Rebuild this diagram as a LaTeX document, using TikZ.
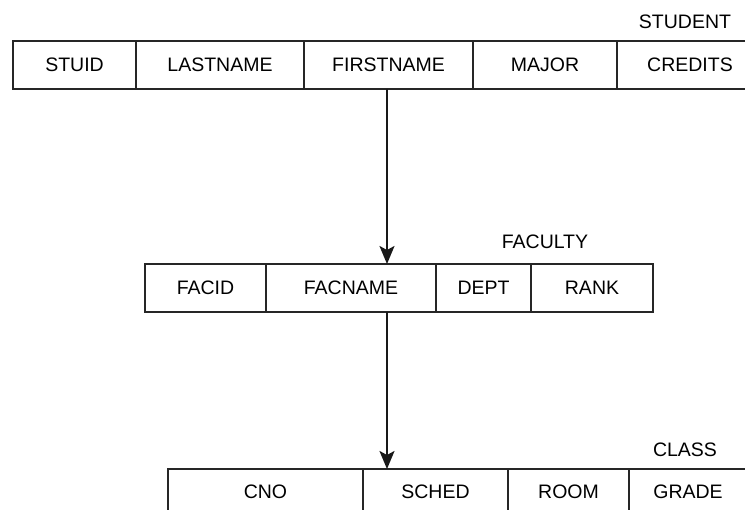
\documentclass[tikz,border=0pt]{standalone}
\usepackage{fontspec}
\setmainfont{Liberation Sans}
\usetikzlibrary{arrows.meta}
\begin{document}
\begin{tikzpicture}[x=1pt,y=-1pt,
  cell/.style={draw=black!85, line width=1.3pt, font=\fontsize{19.5}{22}\selectfont, inner sep=0pt, outer sep=0pt, anchor=north west},
  tname/.style={font=\fontsize{19.5}{22}\selectfont, inner sep=0pt},
  link/.style={line width=2pt, black!90, -{Stealth[length=18pt,width=15pt,inset=4pt]}}]
\useasboundingbox (0,0) rectangle (745,510);
\begin{scope}
\clip (0,0) rectangle (745,510);
% STUDENT
\node[tname] (student) at (685,22) {STUDENT};
\node[cell, minimum width=123pt, minimum height=48pt] (stuid) at (13,41) {STUID};
\node[cell, minimum width=168pt, minimum height=48pt] (lastname) at (136,41) {LASTNAME};
\node[cell, minimum width=169pt, minimum height=48pt] (firstname) at (304,41) {FIRSTNAME};
\node[cell, minimum width=144pt, minimum height=48pt] (major) at (473,41) {MAJOR};
\node[cell, minimum width=146pt, minimum height=48pt] (credits) at (617,41) {CREDITS};
% FACULTY
\node[tname] (faculty) at (545,242) {FACULTY};
\node[cell, minimum width=121pt, minimum height=48pt] (facid) at (145,264) {FACID};
\node[cell, minimum width=170pt, minimum height=48pt] (facname) at (266,264) {FACNAME};
\node[cell, minimum width=95pt, minimum height=48pt] (dept) at (436,264) {DEPT};
\node[cell, minimum width=122pt, minimum height=48pt] (rank) at (531,264) {RANK};
% CLASS
\node[tname] (class) at (685,450) {CLASS};
\node[cell, minimum width=195pt, minimum height=46pt] (cno) at (168,469) {CNO};
\node[cell, minimum width=145pt, minimum height=46pt] (sched) at (363,469) {SCHED};
\node[cell, minimum width=121pt, minimum height=46pt] (room) at (508,469) {ROOM};
\node[cell, minimum width=118pt, minimum height=46pt] (grade) at (629,469) {GRADE};
\end{scope}
% arrows
\coordinate (a1) at ([xshift=-1.5pt]firstname.south);
\draw[link] (a1) -- (a1 |- facname.north);
\draw[link] (a1 |- facname.south) -- (a1 |- sched.north);
\end{tikzpicture}
\end{document}
